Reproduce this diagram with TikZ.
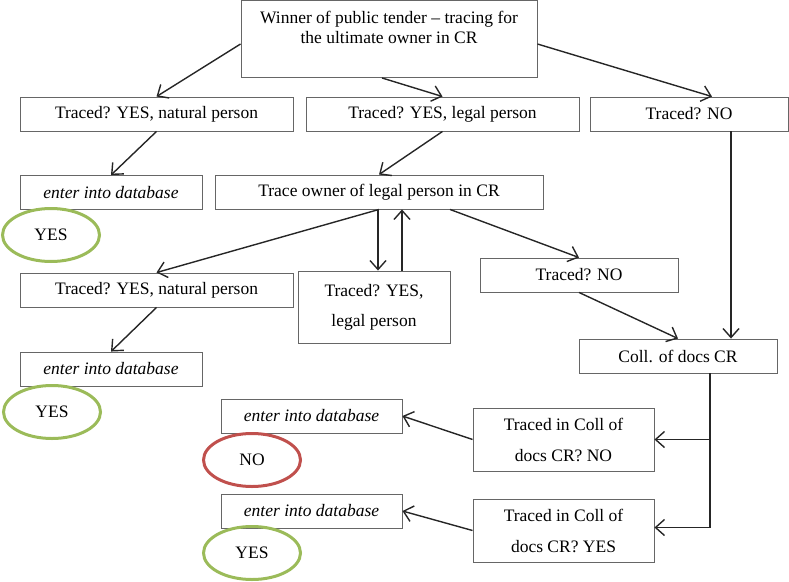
\documentclass[tikz,border=0pt]{standalone}
\usepackage{fontspec}
\setmainfont{Liberation Serif}
\usepackage{tikz}
\usetikzlibrary{arrows.meta,shapes.geometric}
\definecolor{okgreen}{HTML}{9BBB59}
\definecolor{nored}{HTML}{C0504D}

\begin{document}
\begin{tikzpicture}[x=1pt,y=-1pt,font=\fontsize{17.5}{20}\selectfont]
      \tikzset{box/.style={draw=black!60,line width=0.9pt,inner sep=0pt,minimum height=34pt,align=center},
        flow/.style={-{Straight Barb[length=9pt,width=16pt]},line width=1.4pt,black!85},
        yesring/.style={ellipse,draw=okgreen,line width=3pt,minimum width=97pt,minimum height=53pt},
        noring/.style={yesring,draw=nored}}
      \useasboundingbox (0,0) rectangle (789,581);
      \node[box,minimum width=296pt,minimum height=77pt] (winner) at (389,39)
        {Winner of public tender -- tracing for\\ the ultimate owner in CR\\[4pt] ~};
      \node[box,minimum width=273pt] (natyes) at (156.5,114) {Traced? YES, natural person};
      \node[box,minimum width=273pt] (legyes) at (442.5,114) {Traced? YES, legal person};
      \node[box,minimum width=198pt] (tracedno) at (689,114) {Traced? NO};
      \node[box,minimum width=182pt] (enterone) at (111,192.5) {\itshape enter into database};
      \node[yesring] (yesone) at (51,235) {YES};
      \node[box,minimum width=328pt] (traceowner) at (379,192) {Trace owner of legal person in CR};
      \node[box,minimum width=273pt] (natyestwo) at (156.5,290) {Traced? YES, natural person};
      \node[box,minimum width=152pt,minimum height=72pt] (legyestwo) at (374,307) {Traced? YES,\\[10pt] legal person};
      \node[box,minimum width=198pt] (tracednotwo) at (579,275) {Traced? NO};
      \node[box,minimum width=182pt] (entertwo) at (111,369) {\itshape enter into database};
      \node[yesring] (yestwo) at (52,412) {YES};
      \node[box,minimum width=198pt] (coll) at (678,356) {Coll. of docs CR};
      \node[box,minimum width=181pt,minimum height=63pt] (collno) at (563.5,439.5) {Traced in Coll of\\[11pt] docs CR? NO};
      \node[box,minimum width=181pt,minimum height=63pt] (collyes) at (563.5,530.5) {Traced in Coll of\\[11pt] docs CR? YES};
      \node[box,minimum width=181pt] (enterthree) at (311.5,416) {\itshape enter into database};
      \node[noring] (noend) at (252,460) {NO};
      \node[box,minimum width=181pt] (enterfour) at (311.5,511) {\itshape enter into database};
      \node[yesring] (yesthree) at (252,553) {YES};
      \draw[flow] ([yshift=-5pt]winner.west) -- (natyes.north);
      \draw[flow] ([xshift=-7pt]winner.south) -- (legyes.north);
      \draw[flow] ([yshift=-5pt]winner.east) -- ([xshift=23pt]tracedno.north);
      \draw[flow] (natyes.south) -- (enterone.north);
      \draw[flow] (legyes.south) -- (traceowner.north);
      \draw[flow] (traceowner.south) -- (natyestwo.north);
      \draw[flow] (natyestwo.south) -- (entertwo.north);
      \draw[flow] ([xshift=4pt]legyestwo.north |- traceowner.south) coordinate (down) -- (down |- legyestwo.north);
      \draw[flow] ([xshift=28pt]legyestwo.north) coordinate (up) -- (up |- traceowner.south);
      \draw[flow] ([xshift=71pt]traceowner.south) -- (tracednotwo.north);
      \draw[flow] ([xshift=42pt]tracedno.south) coordinate (right) -- (right |- coll.north);
      \draw[flow] (tracednotwo.south) -- (coll.north);
      \draw[flow] ([xshift=32pt]coll.south) coordinate (split) |- (collno.east);
      \draw[flow] (split) |- ([yshift=3pt]collyes.east);
      \draw[flow] (collno.west) -- (enterthree.east);
      \draw[flow] (collyes.west) -- (enterfour.east);
    \end{tikzpicture}
\end{document}
